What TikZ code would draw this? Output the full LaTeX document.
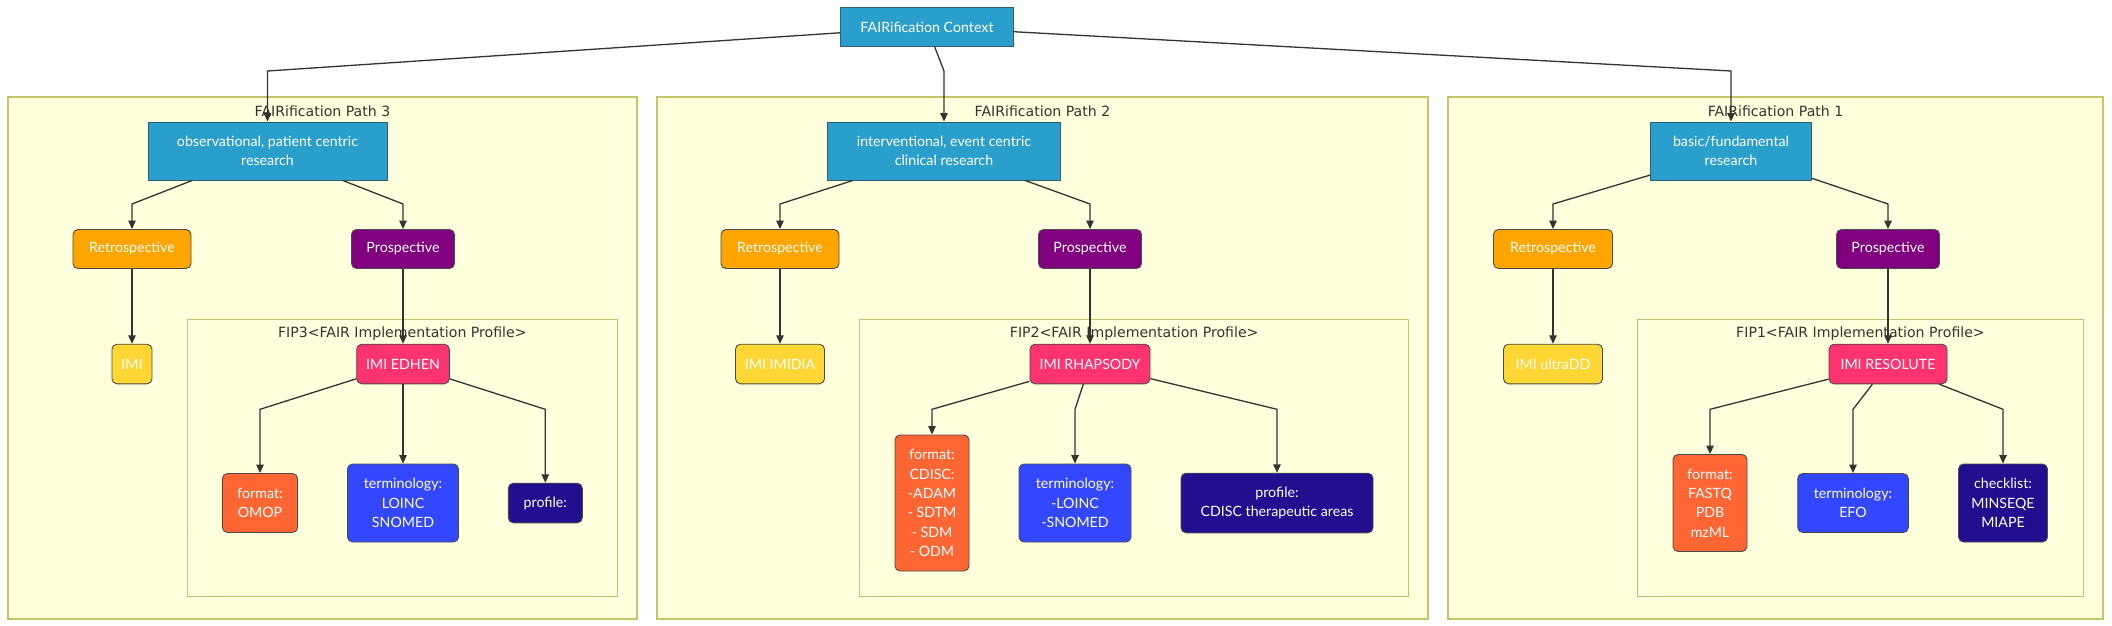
\documentclass[tikz,border=0pt]{standalone}
\usepackage{fontspec}
\setmainfont{Lato}
\newfontfamily\titlefamily{DejaVu Sans}
\usetikzlibrary{arrows.meta}
\definecolor{clfill}{HTML}{FFFFDE}
\definecolor{cldraw}{HTML}{C4C46A}
\definecolor{edgec}{HTML}{333333}
\definecolor{blueb}{HTML}{2A9FCB}
\definecolor{bluebd}{HTML}{2F5F73}
\definecolor{retroc}{HTML}{FFA500}
\definecolor{prosc}{HTML}{800080}
\definecolor{yelc}{HTML}{FFD633}
\definecolor{pinkc}{HTML}{FF3370}
\definecolor{fmtc}{HTML}{FF6633}
\definecolor{termc}{HTML}{3347FF}
\definecolor{darkc}{HTML}{220F8F}
\definecolor{bdc}{HTML}{4A4A4A}
\newcommand{\nodefont}{\fontsize{14.2}{19.4}\selectfont}
\newcommand{\clfont}{\titlefamily\fontsize{14.1}{16}\selectfont}
\begin{document}
\begin{tikzpicture}[x=1pt,y=-1pt,
  cluster/.style={draw=cldraw, fill=clfill, line width=1.2pt, inner sep=0pt},
  cltitle/.style={font=\clfont, text=edgec, inner sep=0pt, anchor=base},
  box/.style={draw=bdc, line width=0.9pt, text=white, font=\nodefont, align=center, inner sep=0pt},
  sqbox/.style={box, fill=blueb, draw=bluebd},
  rbox/.style={box, rounded corners=5pt},
  retro/.style={rbox, fill=retroc, minimum height=39pt},
  pros/.style={rbox, fill=prosc, minimum height=39pt},
  yel/.style={rbox, fill=yelc, minimum height=39.6pt},
  pink/.style={rbox, fill=pinkc, minimum height=39.6pt},
  fmt/.style={rbox, fill=fmtc},
  term/.style={rbox, fill=termc},
  dark/.style={rbox, fill=darkc},
  arr/.style={draw=edgec, line width=1.3pt, -{Triangle[length=8.5pt,width=7.5pt]}}
]
\useasboundingbox[fill=white] (0,0) rectangle (2112,625);

% clusters
\node[cluster, minimum width=629pt, minimum height=522pt] (P3) at (322.5,358) {};
\node[cluster, minimum width=771pt, minimum height=522pt] (P2) at (1042.5,358) {};
\node[cluster, minimum width=655pt, minimum height=522pt] (P1) at (1775.5,358) {};
\node[cltitle] (P3t) at (322.5,116) {FAIRification Path 3};
\node[cltitle] (P2t) at (1042.5,116) {FAIRification Path 2};
\node[cltitle] (P1t) at (1775.5,116) {FAIRification Path 1};
\node[cluster, minimum width=430pt, minimum height=277pt] (F3) at (402.3,458) {};
\node[cluster, minimum width=549pt, minimum height=277pt] (F2) at (1134.2,458) {};
\node[cluster, minimum width=446pt, minimum height=277pt] (F1) at (1860.5,458) {};
\node[cltitle] (F3t) at (402.3,337.7) {FIP3<FAIR Implementation Profile>};
\node[cltitle] (F2t) at (1134.2,337.7) {FIP2<FAIR Implementation Profile>};
\node[cltitle] (F1t) at (1860.5,337.7) {FIP1<FAIR Implementation Profile>};

% nodes
\node[sqbox, minimum width=172.4pt, minimum height=39.4pt] (ctx) at (927,27) {FAIRification Context};
\node[sqbox, minimum width=239pt, minimum height=58pt] (r3) at (267.5,151) {observational, patient centric\\research};
\node[sqbox, minimum width=233pt, minimum height=58pt] (r2) at (944,151) {interventional, event centric\\clinical research};
\node[sqbox, minimum width=161pt, minimum height=58pt] (r1) at (1731,151) {basic/fundamental\\research};

\node[retro, minimum width=118pt] (re3) at (132,249) {Retrospective};
\node[pros, minimum width=103pt] (pr3) at (403,249) {Prospective};
\node[retro, minimum width=118pt] (re2) at (780,249) {Retrospective};
\node[pros, minimum width=103pt] (pr2) at (1090,249) {Prospective};
\node[retro, minimum width=119pt] (re1) at (1553,249) {Retrospective};
\node[pros, minimum width=103pt] (pr1) at (1888,249) {Prospective};

\node[yel, minimum width=40pt] (y3) at (132,364) {IMI};
\node[yel, minimum width=89pt] (y2) at (780,364) {IMI IMIDIA};
\node[yel, minimum width=99pt] (y1) at (1553,364) {IMI ultraDD};
\node[pink, minimum width=92.6pt] (k3) at (403,364) {IMI EDHEN};
\node[pink, minimum width=120pt] (k2) at (1090,364) {IMI RHAPSODY};
\node[pink, minimum width=118pt] (k1) at (1888,364) {IMI RESOLUTE};

\node[fmt, minimum width=75pt, minimum height=59pt] (f3) at (260,503) {format:\\OMOP};
\node[term, minimum width=111pt, minimum height=78pt] (t3) at (403,503) {terminology:\\LOINC\\SNOMED};
\node[dark, minimum width=74pt, minimum height=39.6pt] (p3) at (545.3,503) {profile:};
\node[fmt, minimum width=74pt, minimum height=136pt] (f2) at (932,503) {format:\\CDISC:\\-ADAM\\- SDTM\\- SDM\\- ODM};
\node[term, minimum width=112pt, minimum height=78pt] (t2) at (1075,503) {terminology:\\-LOINC\\-SNOMED};
\node[dark, minimum width=192pt, minimum height=59.6pt] (p2) at (1277,503) {profile:\\CDISC therapeutic areas};
\node[fmt, minimum width=74pt, minimum height=97pt] (f1) at (1710,503) {format:\\FASTQ\\PDB\\mzML};
\node[term, minimum width=110.6pt, minimum height=59pt] (t1) at (1853,503) {terminology:\\EFO};
\node[dark, minimum width=89pt, minimum height=78pt] (c1) at (2003,503) {checklist:\\MINSEQE\\MIAPE};

% bend levels
\coordinate (ly0) at (0,71);
\coordinate (ly1) at (0,204);
\coordinate (ly2) at (0,409.3);
\coordinate (b3) at (r3.north |- ly0);
\coordinate (b2) at (r2.north |- ly0);
\coordinate (b1) at (r1.north |- ly0);
\coordinate (bre3) at (re3.north |- ly1);
\coordinate (bpr3) at (pr3.north |- ly1);
\coordinate (bre2) at (re2.north |- ly1);
\coordinate (bpr2) at (pr2.north |- ly1);
\coordinate (bre1) at (re1.north |- ly1);
\coordinate (bpr1) at (pr1.north |- ly1);
\coordinate (bf3) at (f3.north |- ly2);
\coordinate (bp3) at (p3.north |- ly2);
\coordinate (bf2) at (f2.north |- ly2);
\coordinate (bt2) at (t2.north |- ly2);
\coordinate (bp2) at (p2.north |- ly2);
\coordinate (bf1) at (f1.north |- ly2);
\coordinate (bt1) at (t1.north |- ly2);
\coordinate (bc1) at (c1.north |- ly2);

% edges
\draw[arr] (ctx) -- (b3) -- (r3);
\draw[arr] (ctx) -- (b2) -- (r2);
\draw[arr] (ctx) -- (b1) -- (r1);
\draw[arr] (r3) -- (bre3) -- (re3);
\draw[arr] (r3) -- (bpr3) -- (pr3);
\draw[arr] (r2) -- (bre2) -- (re2);
\draw[arr] (r2) -- (bpr2) -- (pr2);
\draw[arr] (r1) -- (bre1) -- (re1);
\draw[arr] (r1) -- (bpr1) -- (pr1);
\draw[arr] (re3) -- (y3);
\draw[arr] (re2) -- (y2);
\draw[arr] (re1) -- (y1);
\draw[arr] (pr3) -- (k3);
\draw[arr] (pr2) -- (k2);
\draw[arr] (pr1) -- (k1);
\draw[arr] (k3) -- (bf3) -- (f3);
\draw[arr] (k3) -- (t3);
\draw[arr] (k3) -- (bp3) -- (p3);
\draw[arr] (k2) -- (bf2) -- (f2);
\draw[arr] (k2) -- (bt2) -- (t2);
\draw[arr] (k2) -- (bp2) -- (p2);
\draw[arr] (k1) -- (bf1) -- (f1);
\draw[arr] (k1) -- (bt1) -- (t1);
\draw[arr] (k1) -- (bc1) -- (c1);
\end{tikzpicture}
\end{document}
